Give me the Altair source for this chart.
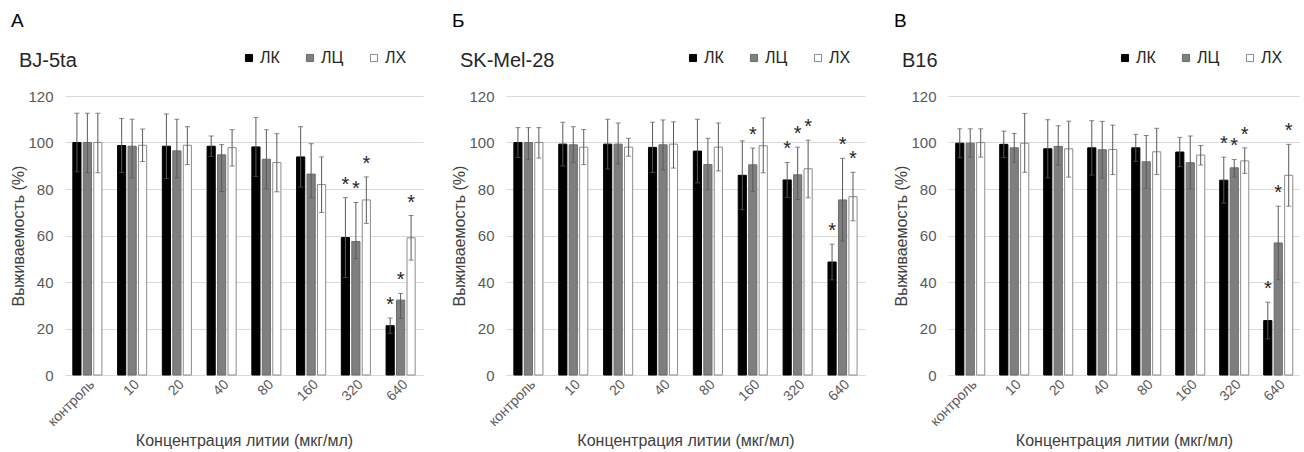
import altair as alt
import pandas as pd

categories = ["контроль", "10", "20", "40", "80", "160", "320", "640"]
series = ["ЛК", "ЛЦ", "ЛХ"]
bar_fill = ["#000000", "#7f7f7f", "#ffffff"]
bar_stroke = ["#000000", "#6b6b6b", "#8c8c8c"]

# ---- Panel А: BJ-5ta ----
a_lk_mean = [100, 98.7, 98.4, 98.4, 98.1, 93.8, 59.1, 21.2]
a_lk_hi = [112.6, 110.3, 112.3, 102.8, 110.8, 106.8, 76.3, 24.5]
a_lk_lo = [87.4, 87.1, 84.5, 94.0, 85.4, 80.8, 41.9, 17.9]
a_lc_mean = [100, 98.4, 96.4, 94.7, 92.8, 86.4, 57.4, 32.2]
a_lc_hi = [112.6, 110.0, 110.0, 99.1, 105.5, 99.5, 74.2, 35.1]
a_lc_lo = [87.0, 84.8, 84.8, 78.9, 80.1, 76.3, 50.1, 24.3]
a_lh_mean = [100, 98.8, 98.8, 97.8, 91.4, 81.9, 75.3, 59.0]
a_lh_hi = [112.6, 105.8, 106.8, 105.5, 103.8, 93.8, 85.2, 68.6]
a_lh_lo = [87.0, 91.8, 90.5, 89.9, 78.8, 69.9, 65.2, 49.4]
a_stars = [[0, 0, 0, 0, 0, 0, 1, 1], [0, 0, 0, 0, 0, 0, 1, 1], [0, 0, 0, 0, 0, 0, 1, 1]]

# ---- Panel Б: SK-Mel-28 ----
b_lk_mean = [100, 99.3, 99.3, 97.9, 96.3, 85.9, 83.9, 48.6]
b_lk_hi = [106.4, 108.7, 110.0, 108.7, 110.0, 100.7, 91.4, 56.3]
b_lk_lo = [93.6, 89.9, 88.6, 87.1, 82.6, 71.1, 76.4, 40.9]
b_lc_mean = [100, 99.0, 99.3, 99.0, 90.5, 90.4, 86.1, 75.3]
b_lc_hi = [106.4, 106.8, 108.4, 109.7, 101.8, 97.6, 98.0, 93.2]
b_lc_lo = [92.6, 91.3, 90.8, 88.2, 79.6, 79.0, 75.5, 57.6]
b_lh_mean = [100, 98.0, 98.0, 99.3, 98.0, 98.6, 88.7, 76.7]
b_lh_hi = [106.4, 105.6, 101.8, 108.9, 108.4, 110.5, 101.0, 87.2]
b_lh_lo = [93.3, 90.5, 94.1, 89.0, 87.8, 87.0, 76.2, 66.3]
b_stars = [[0, 0, 0, 0, 0, 0, 1, 1], [0, 0, 0, 0, 0, 1, 1, 1], [0, 0, 0, 0, 0, 0, 1, 1]]

# ---- Panel В: B16 ----
c_lk_mean = [99.7, 99.2, 97.3, 97.7, 97.7, 95.9, 83.8, 23.4]
c_lk_hi = [105.9, 104.9, 109.8, 109.4, 103.5, 102.2, 93.7, 31.3]
c_lk_lo = [93.5, 93.5, 84.8, 86.0, 91.9, 89.6, 73.9, 15.5]
c_lc_mean = [99.7, 97.7, 98.3, 96.9, 91.7, 91.3, 89.1, 56.8]
c_lc_hi = [105.9, 103.9, 107.2, 109.1, 103.0, 102.8, 92.7, 72.6]
c_lc_lo = [93.7, 91.5, 90.3, 84.7, 80.3, 80.0, 85.2, 41.0]
c_lh_mean = [100, 99.7, 97.3, 97.0, 96.0, 94.6, 92.1, 85.9]
c_lh_hi = [105.9, 112.5, 109.2, 107.5, 106.1, 98.7, 97.7, 99.2]
c_lh_lo = [93.7, 87.2, 85.1, 86.2, 86.2, 90.3, 86.7, 72.6]
c_stars = [[0, 0, 0, 0, 0, 0, 1, 1], [0, 0, 0, 0, 0, 0, 1, 1], [0, 0, 0, 0, 0, 0, 1, 1]]

panel_letters = ["А", "Б", "В"]
panel_names = ["BJ-5ta", "SK-Mel-28", "B16"]

FONT = "Liberation Sans"


def build_df(means, his, los, stars):
    rows = []
    for s, m, h, l, st in zip(series, means, his, los, stars):
        for i, c in enumerate(categories):
            rows.append({"cat": c, "series": s, "mean": m[i], "hi": h[i], "lo": l[i], "star": st[i]})
    return pd.DataFrame(rows)


df_a = build_df([a_lk_mean, a_lc_mean, a_lh_mean], [a_lk_hi, a_lc_hi, a_lh_hi],
                [a_lk_lo, a_lc_lo, a_lh_lo], a_stars)
df_b = build_df([b_lk_mean, b_lc_mean, b_lh_mean], [b_lk_hi, b_lc_hi, b_lh_hi],
                [b_lk_lo, b_lc_lo, b_lh_lo], b_stars)
df_c = build_df([c_lk_mean, c_lc_mean, c_lh_mean], [c_lk_hi, c_lc_hi, c_lh_hi],
                [c_lk_lo, c_lc_lo, c_lh_lo], c_stars)


def make_panel(df, letter, name, width, legend_x):
    base = alt.Chart(df).encode(
        x=alt.X(
            "cat:N",
            sort=categories,
            scale=alt.Scale(paddingInner=0.35, paddingOuter=0.175),
            axis=alt.Axis(
                title="Концентрация литии (мкг/мл)",
                labelAngle=-45,
                labelFontSize=14,
                labelColor="#595959",
                labelPadding=2,
                ticks=False,
                domainColor="#d9d9d9",
                titleFontSize=16,
                titleFontWeight="normal",
                titleColor="#404040",
                titlePadding=4,
            ),
        ),
        xOffset=alt.XOffset("series:N", sort=series, scale=alt.Scale(paddingInner=0.22)),
    )
    bars = base.mark_bar(strokeWidth=1).encode(
        y=alt.Y(
            "mean:Q",
            scale=alt.Scale(domain=[0, 120]),
            axis=alt.Axis(
                title="Выживаемость (%)",
                values=[0, 20, 40, 60, 80, 100, 120],
                labelFontSize=15,
                labelColor="#595959",
                labelPadding=12,
                ticks=False,
                domain=False,
                gridColor="#d9d9d9",
                titleFontSize=16,
                titleFontWeight="normal",
                titleColor="#404040",
                titlePadding=1,
            ),
        ),
        fill=alt.Fill(
            "series:N",
            sort=series,
            scale=alt.Scale(domain=series, range=bar_fill),
            legend=alt.Legend(
                orient="none",
                legendX=legend_x,
                legendY=-46,
                direction="horizontal",
                title=None,
                symbolType="square",
                symbolSize=50,
                symbolStrokeColor="#808080",
                symbolStrokeWidth=1,
                labelFontSize=16,
                labelColor="#262626",
                labelOffset=3,
                columnPadding=22,
            ),
        ),
        stroke=alt.Stroke("series:N", sort=series,
                          scale=alt.Scale(domain=series, range=bar_stroke), legend=None),
    )
    err = base.mark_rule(color="#595959", strokeWidth=1).encode(y="lo:Q", y2="hi:Q")
    cap_hi = base.mark_tick(color="#595959", thickness=1, size=5).encode(y="hi:Q")
    cap_lo = base.mark_tick(color="#595959", thickness=1, size=5).encode(y="lo:Q")
    stars = base.transform_filter(alt.datum.star == 1).mark_text(
        text="*", fontSize=20, dy=-7, baseline="alphabetic", color="#262626"
    ).encode(y="hi:Q")

    lab = pd.DataFrame({"t": [letter], "n": [name]})
    letter_t = alt.Chart(lab).mark_text(
        align="left", baseline="alphabetic", fontSize=19, color="#000000"
    ).encode(x=alt.value(-54), y=alt.value(-69), text="t:N")
    name_t = alt.Chart(lab).mark_text(
        align="left", baseline="alphabetic", fontSize=20, color="#262626"
    ).encode(x=alt.value(-46), y=alt.value(-29), text="n:N")

    return alt.layer(bars, err, cap_hi, cap_lo, stars, letter_t, name_t).properties(
        width=width, height=279
    )


pa = make_panel(df_a, panel_letters[0], panel_names[0], 358, 176)
pb = make_panel(df_b, panel_letters[1], panel_names[1], 359, 179)
pc = make_panel(df_c, panel_letters[2], panel_names[2], 352, 169)

chart = (
    alt.hconcat(pa, pb, pc, spacing=28)
    .resolve_scale(fill="independent", stroke="independent")
    .resolve_legend(fill="independent")
    .properties(padding={"left": 10, "top": 12, "right": 0, "bottom": 0})
    .configure(font=FONT)
    .configure_view(stroke=None)
)

chart.save("out.html", embed_options={"renderer": "svg", "actions": False})
